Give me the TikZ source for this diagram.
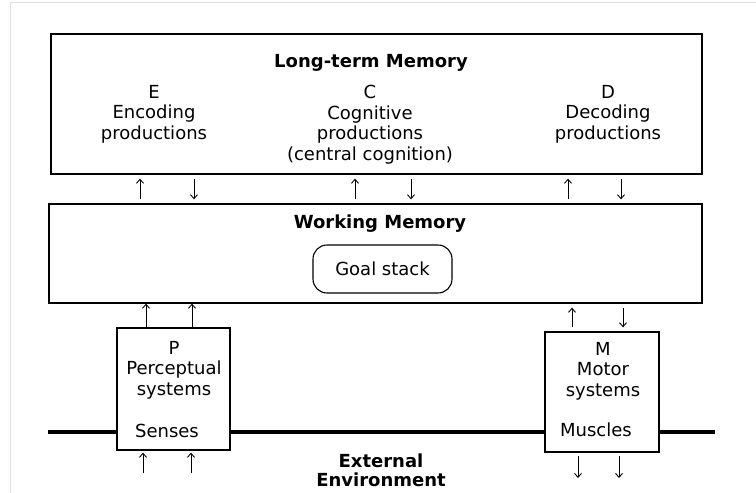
\documentclass[tikz,border=0pt]{standalone}
\usepackage{fontspec}
\setmainfont{DejaVu Sans}
\usetikzlibrary{arrows.meta}

\begin{document}
\begin{tikzpicture}[x=1pt, y=-1pt, >={Straight Barb[length=4pt,width=7pt]},
    mem box/.style={rectangle, draw, line width=1.3pt, inner sep=0pt},
    txt/.style={inner sep=0pt, align=center, font=\fontsize{18}{20.5}\selectfont},
    bold txt/.style={inner sep=0pt, align=center, font=\fontsize{18}{18.5}\selectfont\bfseries},
    flow/.style={->, line width=0.9pt},
    gap flow/.style={flow, shorten <=4pt, shorten >=4pt}]
  \useasboundingbox (0,0) rectangle (756,493);
  \draw[gray!25, line width=1pt] (10,493) -- (10,2) -- (756,2);

  % memories
  \node[mem box, minimum width=651pt, minimum height=140pt] (ltm) at (376.5,104) {};
  \node[mem box, minimum width=653pt, minimum height=99pt] (wm) at (375.5,253.5) {};
  \node[bold txt, anchor=base] (ltmlabel) at (371,67) {Long-term Memory};
  \node[txt, anchor=north] (enc) at (154,85) {E\\Encoding\\productions};
  \node[txt, anchor=north] (cog) at (370,85) {C\\Cognitive\\productions\\(central cognition)};
  \node[txt, anchor=north] (dec) at (608,85) {D\\Decoding\\productions};
  \node[bold txt, anchor=base] (wmlabel) at (380,228) {Working Memory};
  \node[txt, draw, line width=1.1pt, rounded corners=14pt, minimum width=139pt,
        minimum height=48pt] (goal) at (382.5,269) {Goal stack};

  % environment line and the two systems
  \draw[line width=4.5pt] (48,432) -- (715,432);
  \node[mem box, fill=white, minimum width=113pt, minimum height=122pt] (perc) at (173.5,389) {};
  \node[mem box, fill=white, minimum width=114pt, minimum height=120pt] (motor) at (602,392) {};
  \node[txt, anchor=north] (perclabel) at (174,341) {P\\Perceptual\\systems};
  \node[txt, anchor=base] (senses) at (167,437) {Senses};
  \node[txt, anchor=north] (motorlabel) at (603,342) {M\\Motor\\systems};
  \node[txt, anchor=base] (muscles) at (596,436) {Muscles};
  \node[bold txt, anchor=north] (env) at (381,454) {External\\Environment};

  % arrows between memories
  \foreach \u/\d in {140/194, 355/411, 568/621} {
    \draw[gap flow] (\u,0 |- wm.north) -- (\u,0 |- ltm.south);
    \draw[gap flow] (\d,0 |- ltm.south) -- (\d,0 |- wm.north);
  }
  \foreach \u in {146, 192}
    \draw[flow] (\u,0 |- perc.north) -- (\u,0 |- wm.south);
  \draw[gap flow] (572,0 |- motor.north) -- (572,0 |- wm.south);
  \draw[gap flow] (623,0 |- wm.south) -- (623,0 |- motor.north);

  % to and from the outside
  \coordinate (in1) at (143,473);
  \coordinate (in2) at (191,473);
  \coordinate (out1) at (578,478);
  \coordinate (out2) at (619,478);
  \draw[flow, shorten >=2pt] (in1) -- (in1 |- perc.south);
  \draw[flow, shorten >=2pt] (in2) -- (in2 |- perc.south);
  \draw[flow, shorten <=3pt] (out1 |- motor.south) -- (out1);
  \draw[flow, shorten <=3pt] (out2 |- motor.south) -- (out2);
\end{tikzpicture}
\end{document}
